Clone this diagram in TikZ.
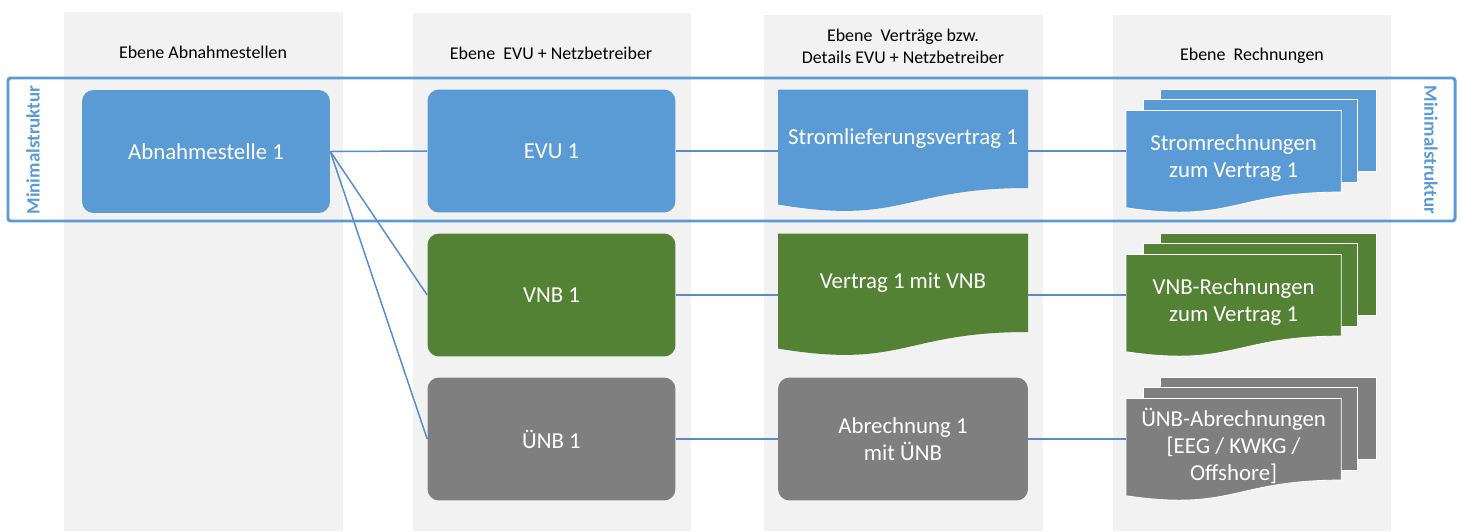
\documentclass[tikz,border=0pt]{standalone}
\usepackage{fontspec}
\setmainfont{Carlito}
\usepackage{tikz}
\usepackage{xcolor}
\definecolor{boxblue}{HTML}{5B9BD5}
\definecolor{boxgreen}{HTML}{548235}
\definecolor{boxgrey}{HTML}{7F7F7F}
\definecolor{colgrey}{HTML}{F2F2F2}
\definecolor{lineblue}{HTML}{5A8CC8}
\tikzset{%
    box/.style={rounded corners=6.5pt, minimum width=4.96cm, minimum height=2.46cm,
        inner sep=0pt, text=white, align=center, font=\fontsize{13}{15.5}\selectfont},
    boxtext/.style={inner sep=0pt, text=white, align=center, font=\fontsize{13}{15.5}\selectfont},
    docarea/.style={minimum width=5cm, minimum height=2.46cm, inner sep=0pt},
    head/.style={inner sep=0pt, align=center, font=\fontsize{10.2}{12.5}\selectfont},
    minimal/.style={inner sep=0pt, text=boxblue, font=\bfseries\fontsize{10.8}{13}\selectfont},
    conn/.style={lineblue, line width=0.85pt}
}
% document shape: name, x, y, colour, text
\newcommand{\docnode}[5]{%
    \fill[#4] ({#2-125},{#3-61.5}) -- ({#2+125},{#3-61.5}) -- ({#2+125},{#3+37})
        .. controls (#2,{#3+37}) and (#2,{#3+74.5}) .. ({#2-125},{#3+53.5}) -- cycle;
    \node[docarea] (#1) at (#2,#3) {};
    \node[boxtext] (#1-t) at (#2,{#3-12.5}) {#5};
}
% stack of documents: name, x, y, colour, text
\newcommand{\multidocnode}[5]{%
    \filldraw[#4,draw=white,line width=0.5pt] ({#2-90.5},{#3-61.5}) rectangle ({#2+125},{#3+20.5});
    \filldraw[#4,draw=white,line width=0.5pt] ({#2-107.3},{#3-51.2}) rectangle ({#2+106.5},{#3+31});
    \filldraw[#4,draw=white,line width=0.5pt] ({#2-125},{#3-40.5}) -- ({#2+90.2},{#3-40.5}) -- ({#2+90.2},{#3+41.1})
        .. controls ({#2-17.4},{#3+41.1}) and ({#2-17.4},{#3+72.5}) .. ({#2-125},{#3+56.8}) -- cycle;
    \node[docarea] (#1) at (#2,#3) {};
    \node[boxtext] (#1-t) at ({#2-17.4},{#3+7}) {#5};
}

\begin{document}
\begin{tikzpicture}[x=0.02cm,y=-0.02cm]
    \useasboundingbox (0,0) rectangle (1461,531);
    % columns
    \fill[colgrey] (64,12) rectangle (343,531);
    \fill[colgrey] (413,13) rectangle (691,531);
    \fill[colgrey] (764,15) rectangle (1043,531);
    \fill[colgrey] (1113,15) rectangle (1391,531);
    \node[head] (h1) at (203,52) {Ebene Abnahmestellen};
    \node[head] (h2) at (551,53) {Ebene\ \ EVU + Netzbetreiber};
    \node[head] (h3) at (903,46) {Ebene\ \ Verträge bzw.\\Details EVU + Netzbetreiber};
    \node[head] (h4) at (1252,56) {Ebene\ \ Rechnungen};

    % frame
    \draw[boxblue,line width=1.7pt,rounded corners=1.5pt] (8,78) rectangle (1455,221);
    \node[minimal,rotate=90] (m1) at (33,150) {Minimalstruktur};
    \node[minimal,rotate=-90] (m2) at (1431,150) {Minimalstruktur};

    \node[box,fill=boxblue] (abn) at (206,151.5) {Abnahmestelle 1};
    \node[box,fill=boxblue] (evu) at (551.5,151) {EVU 1};
    \node[box,fill=boxgreen] (vnb) at (551.5,295) {VNB 1};
    \node[box,fill=boxgrey] (unb) at (551.5,439) {ÜNB 1};

    \docnode{svv}{903}{151}{boxblue}{Stromlieferungsvertrag 1}
    \docnode{vvnb}{903}{295}{boxgreen}{Vertrag 1 mit VNB}
    \node[box,fill=boxgrey,minimum width=5cm] (aunb) at (903,439) {Abrechnung 1\\mit ÜNB};

    \multidocnode{srech}{1251}{151}{boxblue}{Stromrechnungen\\zum Vertrag 1}
    \multidocnode{vrech}{1251}{295}{boxgreen}{VNB-Rechnungen\\zum Vertrag 1}
    \multidocnode{urech}{1251}{439}{boxgrey}{ÜNB-Abrechnungen\\{[}EEG / KWKG /\\Offshore{]}}

    \draw[conn] (abn.east) -- (evu.west);
    \draw[conn] (abn.east) -- (vnb.west);
    \draw[conn] (abn.east) -- (unb.west);
    \draw[conn] (evu.east) -- (svv.west);
    \draw[conn] (vnb.east) -- (vvnb.west);
    \draw[conn] (unb.east) -- (aunb.west);
    \draw[conn] (svv.east) -- (srech.west);
    \draw[conn] (vvnb.east) -- (vrech.west);
    \draw[conn] (aunb.east) -- (urech.west);
\end{tikzpicture}
\end{document}
